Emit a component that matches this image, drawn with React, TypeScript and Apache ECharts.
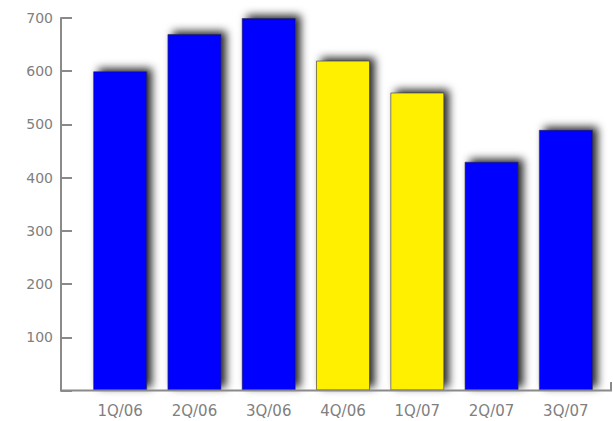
import React, { useEffect, useRef } from "react";
import * as echarts from "echarts";

const categories = ["1Q/06", "2Q/06", "3Q/06", "4Q/06", "1Q/07", "2Q/07", "3Q/07"];
const values = [600, 670, 700, 620, 560, 430, 490];
const barColors = ["#0000FF", "#0000FF", "#0000FF", "#FFF000", "#FFF000", "#0000FF", "#0000FF"];

export default function App() {
  const ref = useRef<HTMLDivElement>(null);
  useEffect(() => {
    if (!ref.current) return;
    const chart = echarts.init(ref.current, undefined, { renderer: "svg" });
    const axisGray = "#8a8a8a";
    chart.setOption({
      animation: false,
      backgroundColor: "#ffffff",
      grid: { left: 83, right: 10, top: 18, bottom: 30.5, containLabel: false },
      xAxis: {
        type: "category",
        data: categories,
        axisLine: { show: false },
        axisTick: { show: false },
        axisLabel: {
          color: "#808080",
          fontFamily: "DejaVu Sans",
          fontSize: 15,
          margin: 13,
        },
      },
      yAxis: {
        type: "value",
        min: 0,
        max: 700,
        interval: 100,
        offset: 22,
        splitLine: { show: false },
        axisLine: { show: true, lineStyle: { color: axisGray, width: 2 } },
        axisTick: { show: true, inside: true, length: 11, lineStyle: { color: axisGray, width: 2 } },
        axisLabel: {
          color: "#808080",
          fontFamily: "DejaVu Sans",
          fontSize: 14,
          margin: 8,
          formatter: (v: number) => (v === 0 ? "" : String(v)),
        },
      },
      series: [
        {
          type: "bar",
          barWidth: 54,
          data: values.map((v, i) => ({
            value: v,
            itemStyle: { color: barColors[i] },
          })),
          itemStyle: {
            borderColor: "rgba(40,40,40,0.55)",
            borderWidth: 1,
            shadowColor: "rgba(0,0,0,0.85)",
            shadowBlur: 8,
            shadowOffsetX: 5,
            shadowOffsetY: -3,
          },
        },
      ],
      graphic: [
        {
          type: "line",
          shape: { x1: 60, y1: 390.5, x2: 612, y2: 390.5 },
          style: { stroke: axisGray, lineWidth: 2 },
          z: 100,
        },
        {
          type: "line",
          shape: { x1: 611, y1: 382, x2: 611, y2: 391 },
          style: { stroke: axisGray, lineWidth: 2 },
          z: 100,
        },
      ],
    });
    return () => chart.dispose();
  }, []);
  return (
    <div
      ref={ref}
      style={{ position: "fixed", left: 0, top: 0, width: 613, height: 421, background: "#fff" }}
    />
  );
}
